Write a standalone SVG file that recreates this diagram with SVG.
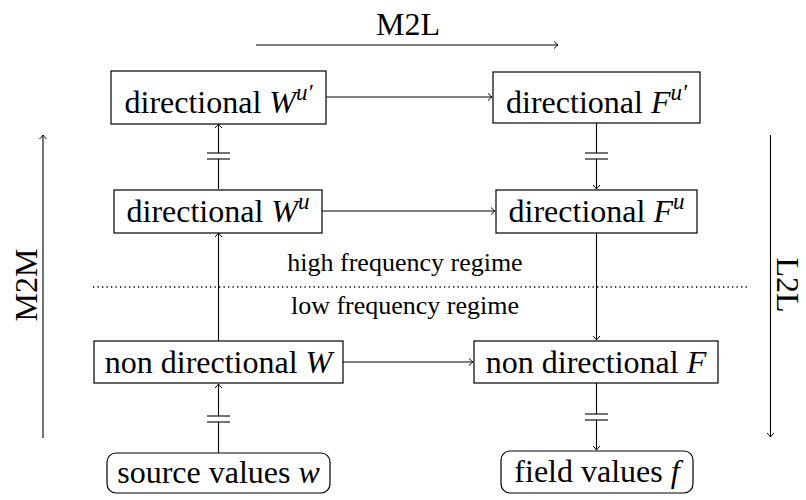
<svg xmlns="http://www.w3.org/2000/svg" width="806" height="500" viewBox="0 0 806 500" font-family="'Liberation Serif', 'Times New Roman', serif">
<defs>
<marker id="ah" viewBox="-5 -4 6 8" markerWidth="6" markerHeight="8" refX="0" refY="0" orient="auto" markerUnits="userSpaceOnUse">
<path d="M-4,-3.5 Q-1.5,-1 0,0 Q-1.5,1 -4,3.5" fill="none" stroke="#000" stroke-width="1"/>
</marker>
<style>
.box{fill:#fff;stroke:#000;stroke-width:1.2}
.t{font-family:"Liberation Serif","Times New Roman",serif;font-size:32px;fill:#000}
.s{font-family:"Liberation Serif","Times New Roman",serif;font-size:23px;fill:#000}
.r{font-family:"Liberation Serif","Times New Roman",serif;font-size:26px;fill:#000}
.i{font-style:italic}
.c{stroke:#000;stroke-width:1.1;fill:none}
.a{marker-end:url(#ah)}
</style>
</defs>
<g id="connectors">
<line class="c a" x1="326" y1="97" x2="492" y2="97"/>
<line class="c a" x1="322" y1="211" x2="495" y2="211"/>
<line class="c a" x1="343" y1="362" x2="473" y2="362"/>
<line class="c" x1="218.5" y1="189" x2="218.5" y2="159"/>
<line class="c a" x1="218.5" y1="153" x2="218.5" y2="124"/>
<line class="c" x1="207" y1="153" x2="230" y2="153"/>
<line class="c" x1="207" y1="159" x2="230" y2="159"/>
<line class="c" x1="596.5" y1="123" x2="596.5" y2="153"/>
<line class="c a" x1="596.5" y1="159" x2="596.5" y2="189"/>
<line class="c" x1="585" y1="153" x2="608" y2="153"/>
<line class="c" x1="585" y1="159" x2="608" y2="159"/>
<line class="c a" x1="218.5" y1="341" x2="218.5" y2="233"/>
<line class="c a" x1="596.5" y1="233" x2="596.5" y2="340"/>
<line class="c" x1="218.5" y1="453" x2="218.5" y2="422"/>
<line class="c a" x1="218.5" y1="416" x2="218.5" y2="384"/>
<line class="c" x1="207" y1="416" x2="230" y2="416"/>
<line class="c" x1="207" y1="422" x2="230" y2="422"/>
<line class="c" x1="596.5" y1="383" x2="596.5" y2="414"/>
<line class="c a" x1="596.5" y1="420" x2="596.5" y2="450"/>
<line class="c" x1="585" y1="414" x2="608" y2="414"/>
<line class="c" x1="585" y1="420" x2="608" y2="420"/>
<line class="c a" x1="256" y1="45" x2="558" y2="45"/>
<line class="c a" x1="43" y1="438" x2="43" y2="135"/>
<line class="c a" x1="770.5" y1="135" x2="770.5" y2="437"/>
<line x1="93" y1="287" x2="750" y2="287" stroke="#000" stroke-width="1.6" stroke-dasharray="1.3 3.2"/>
</g>
<g id="labels">
<text class="t" x="408" y="35" text-anchor="middle">M2L</text>
<text class="t" transform="translate(37,285) rotate(-90)" text-anchor="middle">M2M</text>
<text class="t" transform="translate(777,285) rotate(90)" text-anchor="middle">L2L</text>
<text class="r" x="405" y="271" text-anchor="middle">high frequency regime</text>
<text class="r" x="405" y="314" text-anchor="middle">low frequency regime</text>
</g>
<g id="Wup">
<rect class="box" x="111" y="71" width="215" height="53"/>
<text class="t" x="218.5" y="113" text-anchor="middle">directional <tspan class="i">W</tspan><tspan class="s i" dy="-13">u′</tspan></text>
</g>
<g id="Fup">
<rect class="box" x="493" y="72" width="207" height="51"/>
<text class="t" x="596.5" y="113" text-anchor="middle">directional <tspan class="i">F</tspan><tspan class="s i" dy="-13">u′</tspan></text>
</g>
<g id="Wu">
<rect class="box" x="114" y="190" width="208" height="43"/>
<text class="t" x="218" y="222" text-anchor="middle">directional <tspan class="i">W</tspan><tspan class="s i" dy="-13">u</tspan></text>
</g>
<g id="Fu">
<rect class="box" x="496" y="190" width="201" height="43"/>
<text class="t" x="596.5" y="222" text-anchor="middle">directional <tspan class="i">F</tspan><tspan class="s i" dy="-13">u</tspan></text>
</g>
<g id="Wnd">
<rect class="box" x="94" y="341" width="249" height="42"/>
<text class="t" x="218.5" y="373" text-anchor="middle">non directional <tspan class="i">W</tspan></text>
</g>
<g id="Fnd">
<rect class="box" x="474" y="341" width="244" height="42"/>
<text class="t" x="596" y="373" text-anchor="middle">non directional <tspan class="i">F</tspan></text>
</g>
<g id="src">
<rect class="box" x="107" y="453" width="223" height="40" rx="9"/>
<text class="t" x="218.5" y="483" text-anchor="middle">source values <tspan class="i">w</tspan></text>
</g>
<g id="fld">
<rect class="box" x="501" y="451" width="192" height="42" rx="9"/>
<text class="t" x="597" y="482" text-anchor="middle">field values <tspan class="i">f</tspan></text>
</g>
</svg>
